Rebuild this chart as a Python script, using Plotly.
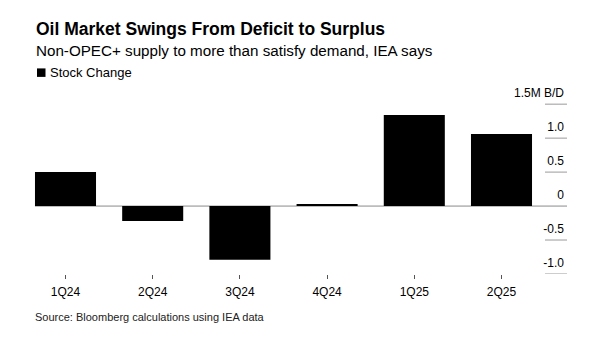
import plotly.graph_objects as go

categories = ["1Q24", "2Q24", "3Q24", "4Q24", "1Q25", "2Q25"]
stock_change = [0.50, -0.22, -0.79, 0.03, 1.34, 1.06]
y_ticks = [-1.0, -0.5, 0, 0.5, 1.0, 1.5]
y_tick_labels = ["-1.0", "-0.5", "0", "0.5", "1.0", "1.5M B/D"]

W, H = 598, 342
Y_MIN, Y_MAX = -1.0, 1.9
UNIT_PX = 68
L, R, B = 22, 31, 68
T = round(H - B - (Y_MAX - Y_MIN) * UNIT_PX, 1)
PW, PH = W - L - R, H - T - B
FONT = "Liberation Sans, Arial, sans-serif"

def px_x(p):
    return (p - L) / PW

def px_y(p):
    return (H - B - p) / PH

xs = list(range(len(categories)))
step = 87.2
x0 = -(65.5 - L) / step
x1 = x0 + PW / step

fig = go.Figure()
fig.add_trace(go.Bar(x=xs, y=stock_change, marker=dict(color="#000000", line=dict(width=0)),
                     width=0.7, name="Stock Change", showlegend=False))

fig.update_layout(
    width=W, height=H, margin=dict(l=L, r=R, t=T, b=B),
    paper_bgcolor="white", plot_bgcolor="white",
    font=dict(family=FONT, color="#000000", size=12),
    xaxis=dict(range=[x0, x1], tickmode="array", tickvals=xs, ticktext=categories,
               showgrid=False, zeroline=False, showline=False,
               ticks="outside", ticklen=4, tickcolor="#555555", tickwidth=1,
               ticklabelstandoff=3,
               tickfont=dict(size=12, color="#000000")),
    yaxis=dict(range=[Y_MIN, Y_MAX], side="right", tickmode="array", tickvals=y_ticks,
               ticktext=y_tick_labels, showgrid=False, zeroline=False, showline=False,
               ticks="", ticklabelposition="inside top", ticklabelshift=-3,
               tickfont=dict(size=12, color="#000000")),
)

# short gridline stubs at right
for v in y_ticks:
    if v == 0:
        continue
    fig.add_shape(type="line", xref="paper", yref="y", x0=px_x(545), x1=1, y0=v, y1=v,
                  line=dict(color="#9a9a9a", width=1), layer="below")
# zero line
fig.add_shape(type="line", xref="x", yref="y", x0=-0.35, x1=x1, y0=0, y1=0,
              line=dict(color="#8a8a8a", width=1), layer="below")

# legend swatch
fig.add_shape(type="rect", xref="paper", yref="paper", x0=px_x(37), x1=px_x(45.5),
              y0=px_y(76.7), y1=px_y(68.2), fillcolor="#000000", line=dict(width=0))

ann = [
    dict(text="<b>Oil Market Swings From Deficit to Surplus</b>", x=px_x(35), y=px_y(28.5), size=17.5, color="#000000"),
    dict(text="Non-OPEC+ supply to more than satisfy demand, IEA says", x=px_x(35), y=px_y(50.5), size=15.2, color="#000000"),
    dict(text="Stock Change", x=px_x(49), y=px_y(72.5), size=13, color="#000000"),
    dict(text="Source: Bloomberg calculations using IEA data", x=px_x(34), y=px_y(316.7), size=11, color="#222222"),
]
for a in ann:
    fig.add_annotation(text=a["text"], x=a["x"], y=a["y"], xref="paper", yref="paper",
                       xanchor="left", yanchor="middle", showarrow=False, borderpad=0,
                       font=dict(family=FONT, size=a["size"], color=a["color"]))

fig.write_html("out.html")
